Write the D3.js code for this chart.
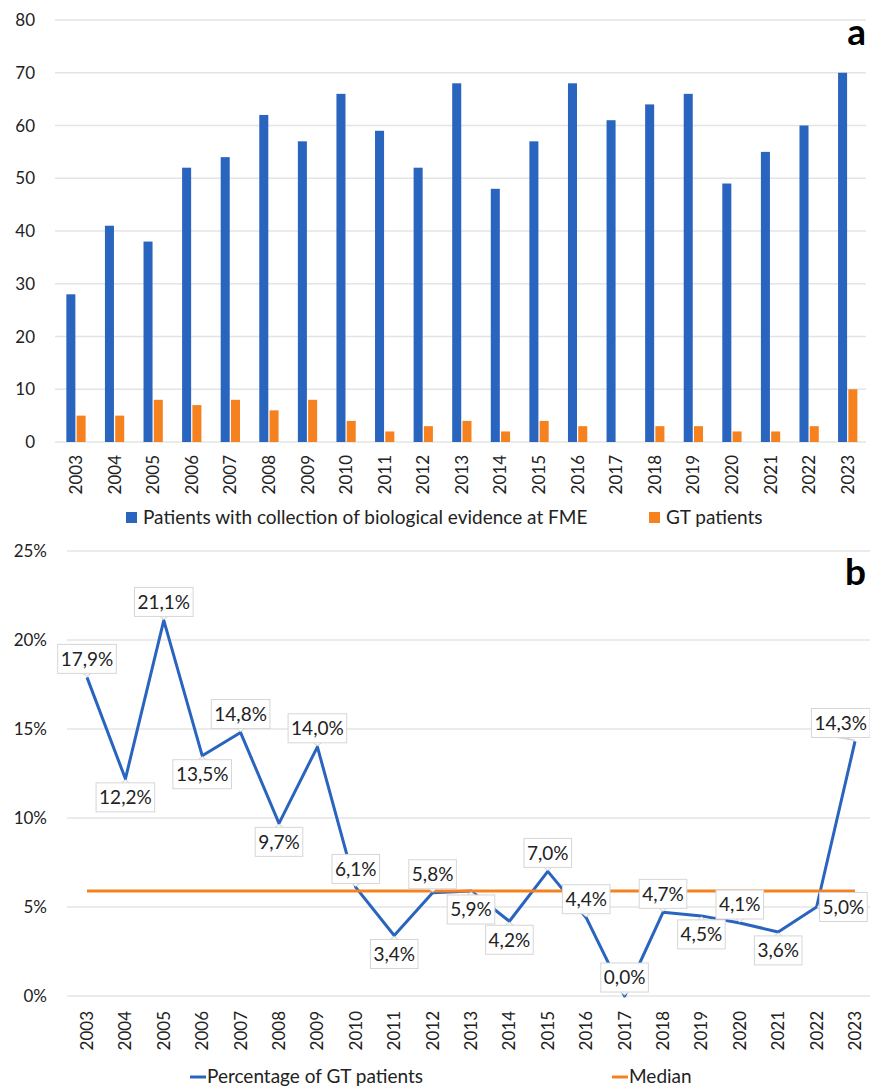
<!DOCTYPE html>
<html>
<head>
<meta charset="utf-8">
<script src="https://cdn.jsdelivr.net/npm/d3@7"></script>
<style>
  html, body { margin: 0; padding: 0; background: #fff; }
  svg { display: block; font-family: Lato, "Open Sans", sans-serif; }
</style>
</head>
<body>
<svg id="chart" width="870" height="1088"></svg>
<script>
// Yearly series
const years = ["2003","2004","2005","2006","2007","2008","2009","2010","2011","2012","2013",
               "2014","2015","2016","2017","2018","2019","2020","2021","2022","2023"];
const patientsFME = [28, 41, 38, 52, 54, 62, 57, 66, 59, 52, 68, 48, 57, 68, 61, 64, 66, 49, 55, 60, 70];
const gtPatients  = [5, 5, 8, 7, 8, 6, 8, 4, 2, 3, 4, 2, 4, 3, 0, 3, 3, 2, 2, 3, 10];
const gtPercent   = [17.9, 12.2, 21.1, 13.5, 14.8, 9.7, 14.0, 6.1, 3.4, 5.8, 5.9,
                     4.2, 7.0, 4.4, 0.0, 4.7, 4.5, 4.1, 3.6, 5.0, 14.3];
const medianPercent = 5.9;
// where each percentage callout sits relative to its point
const labelSide = ["above","below","above","below","above","below","above","above","below","above","below",
                   "below","above","above","above","above","below","above","below","right","above"];

const countTicks   = [0, 10, 20, 30, 40, 50, 60, 70, 80];
const percentTicks = [0, 5, 10, 15, 20, 25];

const seriesNames = ["Patients with collection of biological evidence at FME", "GT patients"];
const lineNames   = ["Percentage of GT patients", "Median"];

const BLUE = "#2964bf", ORANGE = "#f5821f", GRID = "#e4e4e4", TXT = "#222";

const svg = d3.select("#chart");

// ---------- Panel a: grouped bars ----------
const a = svg.append("g");
const xa = d3.scaleBand().domain(years).range([56.7, 867]).paddingInner(0.5).paddingOuter(0.25);
const xaSub = d3.scaleBand().domain([0, 1]).range([0, xa.bandwidth()]).paddingInner(0.12);
const ya = d3.scaleLinear().domain([0, 80]).range([442, 20]);

a.append("g").selectAll("line").data(countTicks).join("line")
  .attr("x1", 55).attr("x2", 866)
  .attr("y1", d => ya(d)).attr("y2", d => ya(d))
  .attr("stroke", GRID).attr("stroke-width", 1.3);

a.append("g").selectAll("text").data(countTicks).join("text")
  .attr("x", 35).attr("y", d => ya(d)).attr("dy", "0.36em")
  .attr("text-anchor", "end").attr("font-size", 17).attr("fill", TXT)
  .text(d => d);

const groups = a.append("g").selectAll("g").data(years).join("g")
  .attr("transform", d => `translate(${xa(d)},0)`);
groups.append("rect")
  .attr("x", xaSub(0)).attr("width", xaSub.bandwidth())
  .attr("y", (d, i) => ya(patientsFME[i])).attr("height", (d, i) => ya(0) - ya(patientsFME[i]))
  .attr("fill", BLUE);
groups.append("rect")
  .attr("x", xaSub(1)).attr("width", xaSub.bandwidth())
  .attr("y", (d, i) => ya(gtPatients[i])).attr("height", (d, i) => ya(0) - ya(gtPatients[i]))
  .attr("fill", ORANGE);

a.append("g").selectAll("text").data(years).join("text")
  .attr("transform", d => `translate(${xa(d) + xa.bandwidth() / 2 + 6},455) rotate(-90)`)
  .attr("text-anchor", "end").attr("font-size", 17).attr("fill", TXT)
  .text(d => d);

// legend a
const legA = a.append("g");
[[126, BLUE, 0], [649, ORANGE, 1]].forEach(([x, c, i]) => {
  legA.append("rect").attr("x", x).attr("y", 512).attr("width", 11).attr("height", 11).attr("fill", c);
  legA.append("text").attr("x", x + 17).attr("y", 524).attr("font-size", 19).attr("fill", TXT)
    .text(seriesNames[i]);
});

a.append("text").attr("x", 866).attr("y", 45).attr("text-anchor", "end")
  .attr("font-size", 37).attr("font-weight", 700).attr("fill", "#000").text("a");

// ---------- Panel b: percentage line ----------
const b = svg.append("g");
const xb = d3.scalePoint().domain(years).range([87, 855]);
const yb = d3.scaleLinear().domain([0, 25]).range([996, 551]);

b.append("g").selectAll("line").data(percentTicks).join("line")
  .attr("x1", 67).attr("x2", 870)
  .attr("y1", d => yb(d)).attr("y2", d => yb(d))
  .attr("stroke", GRID).attr("stroke-width", 1.3);

b.append("g").selectAll("text").data(percentTicks).join("text")
  .attr("x", 47).attr("y", d => yb(d)).attr("dy", "0.36em")
  .attr("text-anchor", "end").attr("font-size", 17).attr("fill", TXT)
  .text(d => d + "%");

b.append("text").attr("x", 866).attr("y", 585).attr("text-anchor", "end")
  .attr("font-size", 37).attr("font-weight", 700).attr("fill", "#000").text("b");

const line = d3.line().x((d, i) => xb(years[i])).y(d => yb(d));
b.append("path").datum(gtPercent).attr("d", line)
  .attr("fill", "none").attr("stroke", BLUE).attr("stroke-width", 3).attr("stroke-linejoin", "round");

b.append("line")
  .attr("x1", xb(years[0])).attr("x2", xb(years[years.length - 1]))
  .attr("y1", yb(medianPercent)).attr("y2", yb(medianPercent))
  .attr("stroke", ORANGE).attr("stroke-width", 3);

// callouts
const fmt = v => v.toFixed(1).replace(".", ",") + "%";
const labels = b.append("g");
gtPercent.forEach((v, i) => {
  const px = xb(years[i]), py = yb(v);
  const g = labels.append("g");
  const t = g.append("text").attr("font-size", 19).attr("fill", TXT).attr("text-anchor", "middle")
    .text(fmt(v));
  const tw = t.node().getComputedTextLength();
  const w = tw + 6, h = 29, gap = 4;
  let cx = px, cy;
  const side = labelSide[i];
  if (side === "above") cy = py - gap - h / 2;
  else if (side === "below") cy = py + gap + h / 2;
  else { cx = px + 3 + w / 2; cy = py; }
  if (cx + w / 2 > 870) cx = 870 - w / 2;
  // tail towards the point
  let bx = cx, by = cy;
  if (side === "above") by = cy + h / 2;
  else if (side === "below") by = cy - h / 2;
  else bx = cx - w / 2;
  g.insert("path", "text")
    .attr("d", side === "right"
      ? `M${bx},${by - 3}L${px + 1},${py}L${bx},${by + 3}`
      : `M${bx - 4},${by}L${px},${py + (side === "above" ? -1 : 1)}L${bx + 4},${by}`)
    .attr("fill", "#fff").attr("stroke", "#d0d0d0").attr("stroke-width", 1);
  g.insert("rect", "text")
    .attr("x", cx - w / 2).attr("y", cy - h / 2).attr("width", w).attr("height", h)
    .attr("fill", "#fff").attr("stroke", "#d6d6d6").attr("stroke-width", 1);
  t.attr("x", cx).attr("y", cy).attr("dy", "0.36em");
});

b.append("g").selectAll("text").data(years).join("text")
  .attr("transform", d => `translate(${xb(d) + 6},1011) rotate(-90)`)
  .attr("text-anchor", "end").attr("font-size", 17).attr("fill", TXT)
  .text(d => d);

// legend b
const legB = b.append("g");
[[190, BLUE, 0], [612, ORANGE, 1]].forEach(([x, c, i]) => {
  legB.append("line").attr("x1", x).attr("x2", x + 16).attr("y1", 1077).attr("y2", 1077)
    .attr("stroke", c).attr("stroke-width", 3);
  legB.append("text").attr("x", x + 17).attr("y", 1083).attr("font-size", 19).attr("fill", TXT)
    .text(lineNames[i]);
});
</script>
</body>
</html>
